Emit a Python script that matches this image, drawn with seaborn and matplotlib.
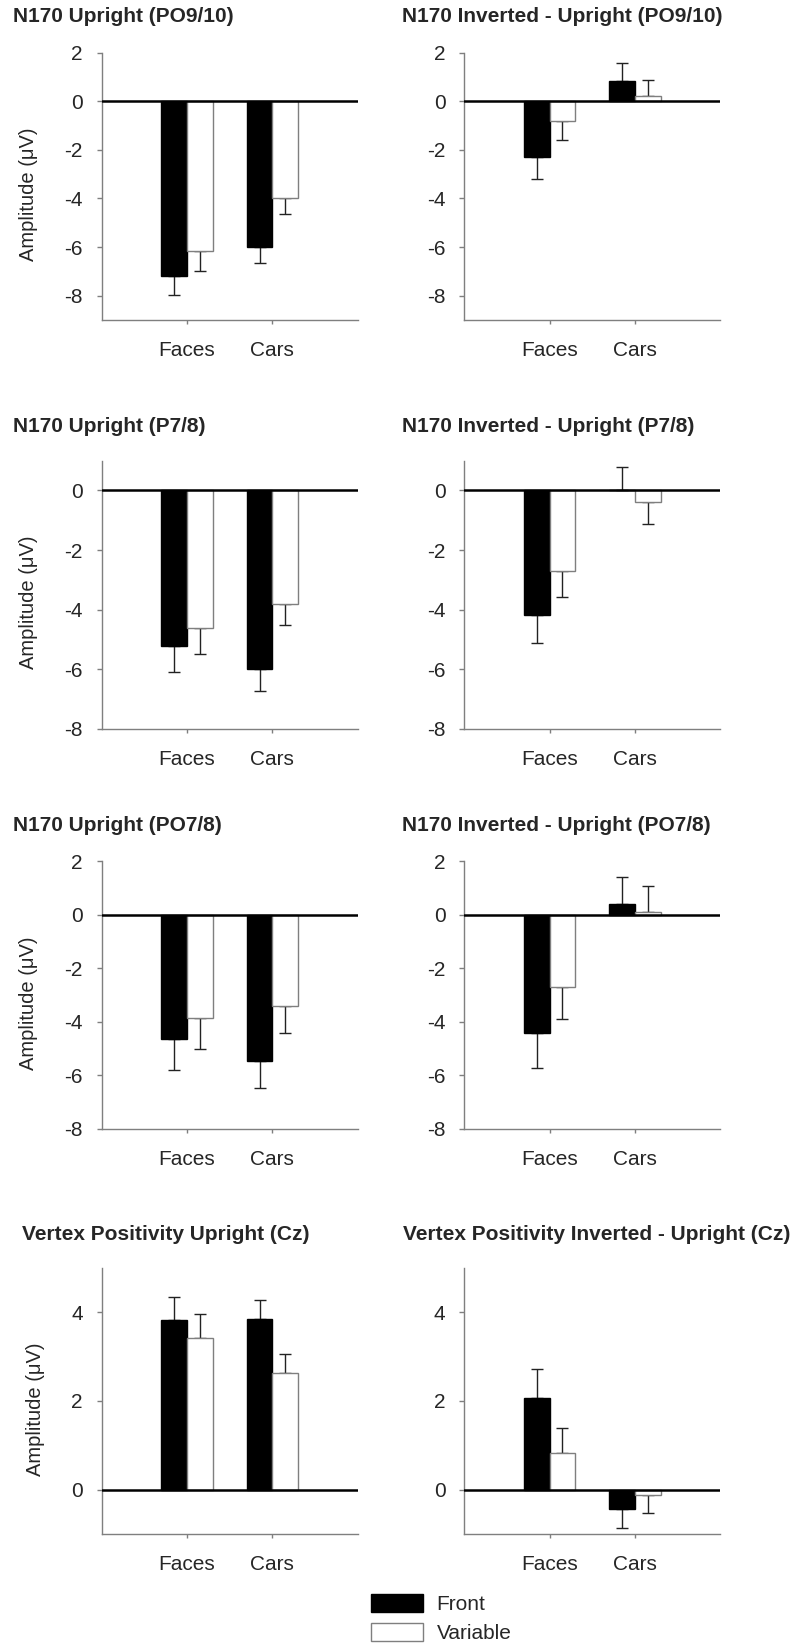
import matplotlib
matplotlib.use("Agg")
import matplotlib.pyplot as plt
import seaborn as sns
import pandas as pd
from matplotlib.patches import Patch

# categorias e condicoes
categorias = ["Faces", "Cars"]
condicoes = ["Front", "Variable"]

titulos = [
    "N170 Upright (PO9/10)",
    "N170 Inverted - Upright (PO9/10)",
    "N170 Upright (P7/8)",
    "N170 Inverted - Upright (P7/8)",
    "N170 Upright (PO7/8)",
    "N170 Inverted - Upright (PO7/8)",
    "Vertex Positivity Upright (Cz)",
    "Vertex Positivity Inverted - Upright (Cz)",
]

# medias (Faces, Cars) por painel
front = [
    [-7.20, -6.00],
    [-2.29, 0.84],
    [-5.22, -6.00],
    [-4.17, 0.02],
    [-4.66, -5.47],
    [-4.41, 0.39],
    [3.82, 3.85],
    [2.07, -0.43],
]
variable = [
    [-6.17, -3.97],
    [-0.80, 0.21],
    [-4.63, -3.81],
    [-2.71, -0.38],
    [-3.87, -3.40],
    [-2.71, 0.10],
    [3.41, 2.62],
    [0.82, -0.11],
]
# erro padrao
se_front = [
    [0.76, 0.67],
    [0.93, 0.73],
    [0.88, 0.75],
    [0.95, 0.78],
    [1.15, 1.02],
    [1.31, 1.04],
    [0.53, 0.43],
    [0.66, 0.43],
]
se_variable = [
    [0.80, 0.68],
    [0.80, 0.66],
    [0.87, 0.72],
    [0.87, 0.74],
    [1.14, 1.03],
    [1.18, 0.97],
    [0.56, 0.43],
    [0.57, 0.41],
]

limites_y = [(-9, 2), (-9, 2), (-8, 1), (-8, 1), (-8, 2), (-8, 2), (-1, 5), (-1, 5)]
ticks_y = [
    [-8, -6, -4, -2, 0, 2], [-8, -6, -4, -2, 0, 2],
    [-8, -6, -4, -2, 0], [-8, -6, -4, -2, 0],
    [-8, -6, -4, -2, 0, 2], [-8, -6, -4, -2, 0, 2],
    [0, 2, 4], [0, 2, 4],
]

sns.set_style("ticks")
plt.rcParams["font.family"] = ["Liberation Sans", "DejaVu Sans"]

W, H = 792, 1647
fig = plt.figure(figsize=(W / 100, H / 100), dpi=100)

col_left = [101.7, 464.3]
row_top_bottom = [(52.5, 320.0), (460.7, 728.7), (861.3, 1128.8), (1267.8, 1534.2)]
titulo_pos = [(13.3, 16), (402, 16), (13.3, 426.5), (402, 426.5),
              (13.3, 825.3), (402, 825.3), (21.7, 1235), (402.7, 1235)]

cinza = "#7f7f7f"

for i in range(8):
    linha, coluna = divmod(i, 2)
    top, bottom = row_top_bottom[linha]
    left = col_left[coluna]
    ax = fig.add_axes([left / W, 1 - bottom / H, 256 / W, (bottom - top) / H])

    df = pd.DataFrame({
        "categoria": categorias * 2,
        "condicao": [condicoes[0]] * 2 + [condicoes[1]] * 2,
        "valor": front[i] + variable[i],
    })
    sns.barplot(data=df, x="categoria", y="valor", hue="condicao",
                palette=["black", "white"], errorbar=None, legend=False,
                width=0.6, ax=ax, zorder=2)

    erros = [se_front[i], se_variable[i]]
    barras = list(ax.containers)
    for k, cont in enumerate(barras):
        for j, bar in enumerate(cont):
            if k == 0:
                bar.set_edgecolor("black")
            else:
                bar.set_edgecolor(cinza)
            bar.set_linewidth(1.0)
            xc = bar.get_x() + bar.get_width() / 2
            v = bar.get_height()
            se = erros[k][j]
            yerr = [[se if v < 0 else 0], [se if v >= 0 else 0]]
            ax.errorbar(xc, v, yerr=yerr, fmt="none", ecolor="#222222",
                        elinewidth=1.0, capsize=4, capthick=1.0, zorder=1)

    ax.axhline(0, color="black", lw=1.8, zorder=4)
    ax.set_xlim(-1, 2)
    ax.set_ylim(*limites_y[i])
    ax.set_yticks(ticks_y[i])
    ax.set_yticklabels([str(t) for t in ticks_y[i]])
    ax.set_xlabel("")
    if coluna == 0:
        ax.set_ylabel("Amplitude (\u03bcV)", fontsize=14.5, labelpad=19)
        ax.yaxis.label.set_y(0.47)
    else:
        ax.set_ylabel("")

    for s in ["top", "right"]:
        ax.spines[s].set_visible(False)
    for s in ["left", "bottom"]:
        ax.spines[s].set_color(cinza)
        ax.spines[s].set_linewidth(1.0)
    ax.tick_params(axis="x", length=3, width=1, color=cinza, labelsize=15, pad=12)
    ax.tick_params(axis="y", length=3.5, width=1, color=cinza, labelsize=15, pad=10)

    tx, ty = titulo_pos[i]
    fig.text(tx / W, 1 - ty / H, titulos[i], fontsize=15, fontweight="bold",
             ha="left", va="center")

handles = [Patch(facecolor="black", edgecolor="black", lw=1),
           Patch(facecolor="white", edgecolor=cinza, lw=1)]
fig.legend(handles, condicoes, loc="upper left",
           bbox_to_anchor=(370.7 / W, 1 - 1594 / H), frameon=False,
           fontsize=15, handlelength=2.5, handleheight=0.96,
           labelspacing=0.43, handletextpad=0.67, borderpad=0, borderaxespad=0)

fig.savefig("out.png", dpi=100)
